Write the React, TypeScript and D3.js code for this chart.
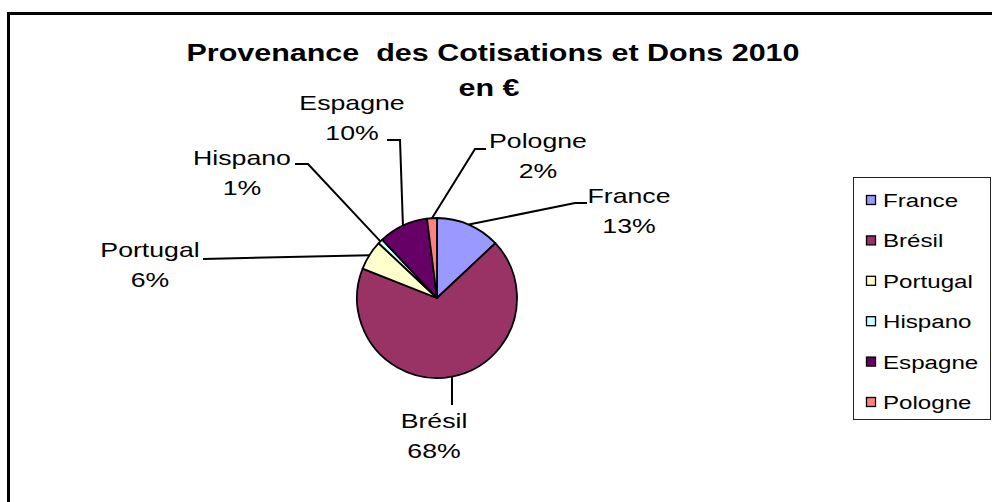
import React from "react";
import * as d3 from "d3";

const categories = ["France", "Brésil", "Portugal", "Hispano", "Espagne", "Pologne"];
const shares = [13, 68, 6, 1, 10, 2];
const colors = ["#9999FF", "#993366", "#FFFFCC", "#CCFFFF", "#660066", "#FF8080"];
const titleLines = ["Provenance  des Cotisations et Dons 2010", "en €"];

// layout only (label centres and leader elbows)
const labelLayout = [
  { cx: 629, by: 203, elbow: [[575, 203], [587, 203]] },
  { cx: 434, by: 428, elbow: [[452, 405]] },
  { cx: 150, by: 257, elbow: [[203, 259]] },
  { cx: 242, by: 165, elbow: [[308, 164], [295, 164]] },
  { cx: 352, by: 110, elbow: [[400, 140], [387, 140]] },
  { cx: 538, by: 148, elbow: [[475, 149], [486, 149]] },
];

const W = 992;
const H = 502;
const SX = 1.27;
const FONT = "'Liberation Sans', Arial, sans-serif";
const CX = 437;
const CY = 298;
const R = 80;

function SText({ x, y, size, anchor = "middle", weight = "normal", children }: any) {
  return (
    <text
      transform={`translate(${x},${y}) scale(${SX},1)`}
      textAnchor={anchor}
      fontFamily={FONT}
      fontSize={size}
      fontWeight={weight}
      fill="#000"
      style={{ whiteSpace: "pre" }}
    >
      {children}
    </text>
  );
}

export default function App() {
  const data = categories.map((c, i) => ({ name: c, value: shares[i], color: colors[i] }));
  const pie = d3.pie<any>().value((d) => d.value).sort(null);
  const arcs = pie(data);
  const arc = d3.arc<any>().innerRadius(0).outerRadius(R);
  const total = d3.sum(shares);

  const legendY = d3.scaleLinear().domain([0, categories.length - 1]).range([200, 402]);

  return (
    <svg
      width={W}
      height={H}
      style={{ position: "absolute", left: 0, top: 0, background: "#fff" }}
    >
      <rect x={0} y={0} width={W} height={H} fill="#fff" />
      <rect x={8.5} y={13.5} width={W + 20} height={H + 20} fill="#fff" stroke="#000" strokeWidth={3} />

      {titleLines.map((t, i) => (
        <SText key={i} x={i === 0 ? 493 : 489} y={61 + i * 35} size={24} weight="bold">
          {t}
        </SText>
      ))}

      <g transform={`translate(${CX},${CY})`}>
        {arcs.map((a, i) => (
          <path key={i} d={arc(a) as string} fill={a.data.color} stroke="#000" strokeWidth={1.8} strokeLinejoin="round" />
        ))}
      </g>

      {arcs.map((a, i) => {
        const mid = (a.startAngle + a.endAngle) / 2;
        const sx = CX + R * Math.sin(mid);
        const sy = CY - R * Math.cos(mid);
        const pts = [[sx, sy], ...labelLayout[i].elbow];
        const line = d3.line()(pts as [number, number][]) as string;
        const pct = Math.round((a.data.value / total) * 100) + "%";
        const L = labelLayout[i];
        return (
          <g key={i}>
            <path d={line} fill="none" stroke="#000" strokeWidth={2} />
            <SText x={L.cx} y={L.by} size={21}>{a.data.name}</SText>
            <SText x={L.cx} y={L.by + 30} size={21}>{pct}</SText>
          </g>
        );
      })}

      <rect x={853.5} y={177.5} width={137} height={242} fill="#fff" stroke="#222" strokeWidth={1} />
      {categories.map((c, i) => (
        <g key={c}>
          <rect x={866.5} y={legendY(i) - 4.5} width={9} height={9} fill={colors[i]} stroke="#000" strokeWidth={1.3} />
          <SText x={883} y={legendY(i) + 7} size={19} anchor="start">{c}</SText>
        </g>
      ))}
    </svg>
  );
}
